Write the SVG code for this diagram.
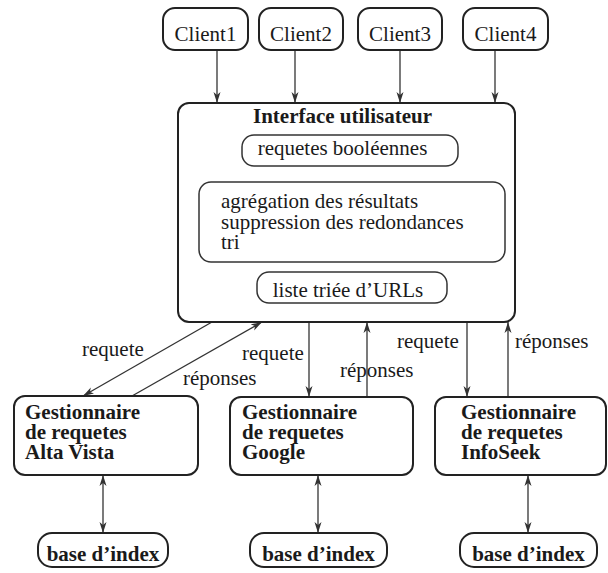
<svg xmlns="http://www.w3.org/2000/svg" width="608" height="573" viewBox="0 0 608 573">
<style>
text{font-family:"Liberation Serif","Times New Roman","DejaVu Serif",serif;font-size:21px;fill:#1a1a1a}
.b{font-weight:bold}
.box{fill:#fff;stroke:#222;stroke-width:2}
.in{fill:none;stroke:#333;stroke-width:1.5}
.c{fill:none;stroke:#333;stroke-width:1.3}
.a{marker-end:url(#ah)}
.d{marker-start:url(#ahs);marker-end:url(#ah)}
</style>
<defs>
<marker id="ah" viewBox="0 0 12 8" refX="11" refY="4" markerWidth="12" markerHeight="8" markerUnits="userSpaceOnUse" orient="auto">
<path d="M0,0.5 L11,4 L0,7.5 L3,4 z" fill="#333"/>
</marker>
<marker id="ahs" viewBox="0 0 12 8" refX="1" refY="4" markerWidth="12" markerHeight="8" markerUnits="userSpaceOnUse" orient="auto">
<path d="M12,0.5 L1,4 L12,7.5 L9,4 z" fill="#333"/>
</marker>
</defs>
<rect width="608" height="573" fill="#fff"/>
<g id="connectors">
<line class="c a" x1="217" y1="50" x2="217" y2="103"/>
<line class="c a" x1="295" y1="50" x2="295" y2="103"/>
<line class="c a" x1="400" y1="50" x2="400" y2="103"/>
<line class="c a" x1="495" y1="50" x2="495" y2="103"/>
<line class="c a" x1="212" y1="322" x2="83" y2="396"/>
<line class="c a" x1="132" y1="396" x2="262" y2="322"/>
<line class="c a" x1="309" y1="322" x2="309" y2="397"/>
<line class="c a" x1="367" y1="397" x2="367" y2="322"/>
<line class="c a" x1="467" y1="322" x2="467" y2="397"/>
<line class="c a" x1="508" y1="397" x2="508" y2="322"/>
<line class="c d" x1="103" y1="475" x2="103" y2="533"/>
<line class="c d" x1="318" y1="475" x2="318" y2="533"/>
<line class="c d" x1="528" y1="475" x2="528" y2="533"/>
<text x="82" y="356">requete</text>
<text x="183" y="385">réponses</text>
<text x="242" y="360">requete</text>
<text x="340" y="377">réponses</text>
<text x="397" y="348">requete</text>
<text x="515" y="348">réponses</text>
</g>
<g id="client1"><rect class="box" x="163" y="8" width="85" height="42" rx="12"/><text x="205.5" y="41" text-anchor="middle">Client1</text></g>
<g id="client2"><rect class="box" x="259" y="8" width="84" height="42" rx="12"/><text x="301" y="41" text-anchor="middle">Client2</text></g>
<g id="client3"><rect class="box" x="358" y="8" width="84" height="42" rx="12"/><text x="400" y="41" text-anchor="middle">Client3</text></g>
<g id="client4"><rect class="box" x="463" y="8" width="85" height="42" rx="12"/><text x="505.5" y="41" text-anchor="middle">Client4</text></g>
<g id="interface">
<rect class="box" x="178" y="103" width="337" height="219" rx="11"/>
<text class="b" x="342.5" y="123" text-anchor="middle">Interface utilisateur</text>
<rect class="in" x="242" y="135" width="216" height="31" rx="12"/>
<text x="342.5" y="155" text-anchor="middle">requetes booléennes</text>
<rect class="in" x="199" y="182" width="306" height="80" rx="12"/>
<text x="221" y="208">agrégation des résultats</text>
<text x="221" y="228.5">suppression des redondances</text>
<text x="221" y="249">tri</text>
<rect class="in" x="257" y="272" width="190" height="31" rx="12"/>
<text x="348" y="297" text-anchor="middle">liste triée d’URLs</text>
</g>
<g id="altavista"><rect class="box" x="14" y="396" width="184" height="79" rx="11"/>
<text class="b" x="25" y="419">Gestionnaire</text><text class="b" x="25" y="439">de requetes</text><text class="b" x="25" y="459">Alta Vista</text></g>
<g id="google"><rect class="box" x="230" y="397" width="183" height="78" rx="11"/>
<text class="b" x="242" y="419">Gestionnaire</text><text class="b" x="242" y="439">de requetes</text><text class="b" x="242" y="459">Google</text></g>
<g id="infoseek"><rect class="box" x="435" y="397" width="171" height="78" rx="11"/>
<text class="b" x="461" y="419">Gestionnaire</text><text class="b" x="461" y="439">de requetes</text><text class="b" x="461" y="459">InfoSeek</text></g>
<g id="base1"><rect class="box" x="38" y="533" width="130" height="34" rx="14"/><text class="b" x="103" y="561" text-anchor="middle">base d’index</text></g>
<g id="base2"><rect class="box" x="250" y="533" width="137" height="34" rx="14"/><text class="b" x="318.5" y="561" text-anchor="middle">base d’index</text></g>
<g id="base3"><rect class="box" x="460" y="533" width="137" height="34" rx="14"/><text class="b" x="528.5" y="561" text-anchor="middle">base d’index</text></g>
</svg>
